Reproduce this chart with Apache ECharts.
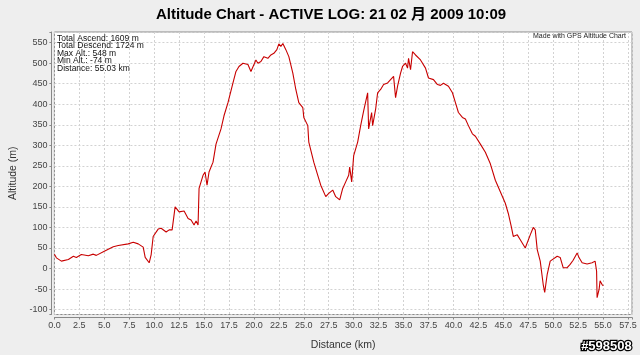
<!DOCTYPE html>
<html>
<head>
<meta charset="utf-8">
<script src="https://cdn.jsdelivr.net/npm/echarts@6/dist/echarts.min.js"></script>
<style>
html,body{margin:0;padding:0;background:#eeeeee;}
#c{width:640px;height:355px;}
</style>
</head>
<body>
<div id="c"></div>
<script>
// ---- data ----
var titleText = 'Altitude Chart - ACTIVE LOG: 21 02 月 2009 10:09';
var statsLines = ['Total Ascend: 1609 m', 'Total Descend: 1724 m', 'Max Alt.: 548 m', 'Min Alt.: -74 m', 'Distance: 55.03 km'];
var creditText = 'Made with GPS Altitude Chart';
var watermarkText = '#598508';
var xAxisName = 'Distance (km)';
var yAxisName = 'Altitude (m)';

var distanceKm = [
  0.0,0.2,0.7,1.4,1.9,2.2,2.7,3.4,3.9,4.2,5.0,5.9,6.4,7.4,7.9,8.4,8.9,9.1,9.5,9.7,
  9.9,10.4,10.7,11.2,11.5,11.8,12.1,12.5,13.0,13.4,13.7,14.0,14.2,14.4,14.5,14.9,15.1,15.3,15.5,15.9,
  16.2,16.7,17.0,17.4,17.9,18.2,18.5,18.9,19.0,19.4,19.7,19.9,20.2,20.4,20.7,21.0,21.4,21.7,22.0,22.3,
  22.5,22.7,22.9,23.2,23.5,23.9,24.2,24.5,24.9,25.0,25.2,25.4,25.5,26.0,26.4,26.7,27.2,27.5,27.9,28.2,
  28.6,28.9,29.2,29.5,29.6,29.8,30.0,30.4,30.7,31.0,31.4,31.5,31.8,31.9,32.2,32.4,32.7,33.0,33.4,33.7,
  34.0,34.2,34.4,34.7,34.9,35.2,35.4,35.5,35.7,35.9,36.2,36.7,37.2,37.5,38.0,38.4,38.7,39.0,39.5,39.9,
  40.2,40.5,40.9,41.2,41.5,41.9,42.2,42.7,43.2,43.7,44.2,44.7,45.2,45.5,45.8,46.0,46.4,46.7,47.2,47.4,
  47.7,48.0,48.2,48.4,48.7,49.0,49.15,49.4,49.7,50.4,50.7,51.0,51.4,51.7,52.0,52.2,52.4,52.6,52.9,53.4,
  53.9,54.2,54.3,54.35,54.4,54.5,54.6,54.7,54.9,55.03
];
var altitudeM = [
  35,26,18,22,30,27,34,31,35,32,42,53,56,60,64,60,52,27,14,34,
  78,96,98,89,94,94,150,138,140,122,118,106,116,106,195,227,235,203,235,259,
  303,340,372,404,452,480,492,500,504,497,480,476,508,500,504,516,512,520,524,533,
  547,541,548,533,516,476,436,404,392,368,364,348,308,259,227,203,175,183,191,175,
  167,195,211,227,247,211,275,308,348,384,428,340,380,348,388,428,436,448,452,460,
  468,416,444,476,492,500,488,512,484,528,520,508,488,464,460,448,446,451,444,428,
  404,380,368,364,348,328,322,303,283,255,215,187,159,134,102,78,82,70,50,46,
  82,100,94,46,18,-39,-58,-14,18,30,27,2,2,10,20,22,38,26,14,11,
  14,18,22,-6,-71,-74,-51,-30,-39,-42
];
var xTickStep = 2.5;
var yTickStep = 50;

// ---- chart ----
var seriesData = distanceKm.map(function (d, i) { return [d, altitudeM[i]]; });
var chart = echarts.init(document.getElementById('c'), null, {renderer: 'canvas'});
var font = 'Liberation Sans, Arial, Noto Sans CJK SC, sans-serif';
chart.setOption({
  animation: false,
  backgroundColor: '#eeeeee',
  title: {
    text: titleText,
    left: 151,
    top: 2,
    textStyle: {fontFamily: font, fontSize: 15, fontWeight: 'bold', color: '#000'}
  },
  grid: {
    left: 53, right: 8, top: 32, bottom: 38,
    show: true, backgroundColor: '#ffffff', borderColor: '#8a8a8a', borderWidth: 1
  },
  xAxis: {
    type: 'value', min: 0, max: 57.9, interval: xTickStep,
    offset: 3,
    name: xAxisName, nameLocation: 'middle', nameGap: 22,
    nameTextStyle: {fontFamily: font, fontSize: 10.5, color: '#333'},
    axisLine: {show: true, onZero: false, lineStyle: {color: '#888', width: 1}},
    axisTick: {show: true, length: 2, lineStyle: {color: '#888'}},
    axisLabel: {
      fontFamily: font, fontSize: 9, color: '#444', margin: 4,
      showMaxLabel: true,
      formatter: function (v) {
        var r = v / xTickStep;
        return Math.abs(r - Math.round(r)) < 1e-6 ? v.toFixed(1) : '';
      }
    },
    splitLine: {show: true, lineStyle: {color: '#d2d2d2', type: [2, 2], width: 1}}
  },
  yAxis: {
    type: 'value', min: -112, max: 576, splitNumber: 14,
    offset: 3,
    name: yAxisName, nameLocation: 'middle', nameGap: 30,
    nameTextStyle: {fontFamily: font, fontSize: 10.5, color: '#333'},
    axisLine: {show: true, onZero: false, lineStyle: {color: '#888', width: 1}},
    axisTick: {show: true, length: 2, lineStyle: {color: '#888'}},
    axisLabel: {
      fontFamily: font, fontSize: 9, color: '#444', margin: 4,
      formatter: function (v) {
        return Math.abs(v % yTickStep) < 1e-6 ? String(v) : '';
      }
    },
    splitLine: {show: true, lineStyle: {color: '#d2d2d2', type: [2, 2], width: 1}}
  },
  series: [{
    type: 'line',
    data: seriesData,
    showSymbol: false,
    symbol: 'none',
    lineStyle: {color: '#c80000', width: 1.1},
    z: 5
  }],
  graphic: [
    {
      type: 'text', left: 57, top: 34, z: 10,
      style: {text: statsLines.join('\n'), font: '8.5px ' + font, fill: '#111', lineHeight: 7.5}
    },
    {
      type: 'text', right: 14, top: 33, z: 10,
      style: {text: creditText, font: '7px ' + font, fill: '#222', textAlign: 'right'}
    },
    {
      type: 'text', right: 7, bottom: 1, z: 10,
      style: {text: watermarkText, font: 'bold 13px ' + font, fill: '#ffffff', stroke: '#000000', lineWidth: 2.5}
    }
  ]
});
</script>
</body>
</html>
